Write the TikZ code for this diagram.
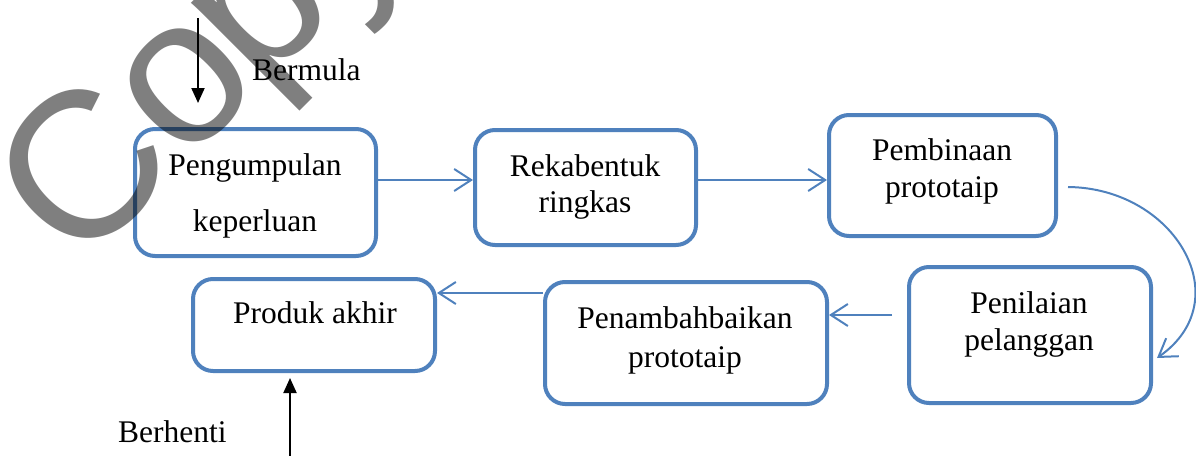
\documentclass[tikz,border=0pt]{standalone}
\usepackage{fontspec}
\setmainfont{Liberation Serif}
\newfontfamily\wmfont{Liberation Sans}
\usetikzlibrary{arrows.meta}
\definecolor{boxblue}{RGB}{79,129,189}
\begin{document}
\begin{tikzpicture}[x=1pt,y=-1pt,
 stepbox/.style={rectangle, draw=boxblue, line width=4pt, rounded corners=20pt, fill=white, inner sep=0pt},
 txt/.style={font=\fontsize{31.5}{36}\selectfont, inner sep=0pt, anchor=base},
 arr/.style={draw=boxblue, line width=2pt, -{Straight Barb[length=17pt,width=22pt]}},
 blk/.style={draw=black, line width=2pt, -{Triangle[length=15pt,width=13pt]}},
 wm/.style={font=\wmfont\fontsize{208}{208}\selectfont, text=black, text opacity=0.5, inner sep=0pt}]
\useasboundingbox (0,0) rectangle (1196,455);
\clip (0,0) rectangle (1196,455);
% boxes
\node[stepbox, minimum width=241, minimum height=127] (b1) at (255.5,192.5) {};
\node[stepbox, minimum width=221, minimum height=115] (b2) at (585.5,187.5) {};
\node[stepbox, minimum width=227, minimum height=121] (b3) at (942.5,175.5) {};
\node[stepbox, minimum width=242, minimum height=136] (b4) at (1030,335) {};
\node[stepbox, minimum width=282, minimum height=122] (b5) at (686,343) {};
\node[stepbox, minimum width=242, minimum height=92] (b6) at (314,325) {};
% texts
\node[txt] (t1a) at (255,175) {Pengumpulan};
\node[txt] (t1b) at (255,231) {keperluan};
\node[txt] (t2a) at (585,176) {Rekabentuk};
\node[txt] (t2b) at (585,212) {ringkas};
\node[txt] (t3a) at (942,160) {Pembinaan};
\node[txt] (t3b) at (942,197) {prototaip};
\node[txt] (t4a) at (1029,313) {Penilaian};
\node[txt] (t4b) at (1029,350) {pelanggan};
\node[txt] (t5a) at (685,328) {Penambahbaikan};
\node[txt] (t5b) at (685,367) {prototaip};
\node[txt] (t6) at (315,323) {Produk akhir};
\node[txt, anchor=base west] (st) at (252,80) {Bermula};
\node[txt, anchor=base west] (en) at (118,442) {Berhenti};
% helper coordinates
\coordinate (r1) at (0,180);
\coordinate (r2) at (0,315);
\coordinate (r3) at (0,293);
\coordinate (c3s) at (1068,187);
\coordinate (c4e) at (1157,358);
\coordinate (c4s) at (892,315);
\coordinate (sa) at (198,18);
\coordinate (sb) at (198,103);
\coordinate (ea) at (290,456);
\coordinate (eb) at (290,378);
% connectors
\draw[arr] (b1.east |- r1) -- (b2.west |- r1);
\draw[arr] (b2.east |- r1) -- (b3.west |- r1);
\draw[arr] (c3s) .. controls (1175,188) and (1240,300) .. (c4e);
\draw[arr] (c4s) -- (b5.east |- r2);
\draw[arr] (b5.west |- r3) -- (b6.east |- r3);
\draw[blk] (sa) -- (sb);
\draw[blk] (ea) -- (eb);
% watermark
\node[wm, anchor=base west, rotate=45] (wmk) at (78,272) {Co\kern-10pt py};
\end{tikzpicture}
\end{document}
